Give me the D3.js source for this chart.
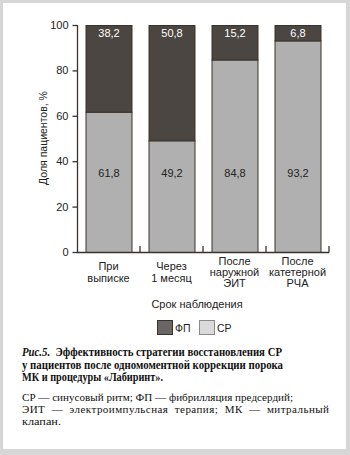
<!DOCTYPE html>
<html>
<head>
<meta charset="utf-8">
<script src="https://cdn.jsdelivr.net/npm/d3@7"></script>
<style>
  html, body { margin: 0; padding: 0; background: #d6d6d6; }
  svg { display: block; }
</style>
</head>
<body>
<svg id="chart" width="350" height="455"></svg>
<script>
// Periods of observation (multi-line labels)
const categories = [
  ["При", "выписке"],
  ["Через", "1 месяц"],
  ["После", "наружной", "ЭИТ"],
  ["После", "катетерной", "РЧА"]
];
// Share of patients, %
const srValues = [61.8, 49.2, 84.8, 93.2];   // sinus rhythm
const fpValues = [38.2, 50.8, 15.2, 6.8];    // atrial fibrillation
const yTicks = [0, 20, 40, 60, 80, 100];
const seriesNames = ["ФП", "СР"];

const svg = d3.select("#chart");

// white page panel
svg.append("rect").attr("x", 3).attr("y", 3).attr("width", 343).attr("height", 446).attr("fill", "#fff");

const plot = { left: 77, right: 329, top: 25, bottom: 252 };
const x = d3.scaleBand().domain(d3.range(categories.length)).range([plot.left, plot.right]).paddingInner(0.27).paddingOuter(0.135);
const y = d3.scaleLinear().domain([0, 100]).range([plot.bottom, plot.top]);

const dark = "#4b4641", light = "#b1b0b0", edge = "#3b332b";
const sans = "Liberation Sans, Arial, sans-serif";
const serif = "Liberation Serif, Times New Roman, serif";

// bars: СР bottom, ФП on top
const g = svg.append("g");
categories.forEach((c, i) => {
  g.append("rect").attr("x", x(i) + 0.5).attr("y", y(srValues[i]) + 0.5)
    .attr("width", x.bandwidth()).attr("height", y(0) - y(srValues[i]))
    .attr("fill", light).attr("stroke", edge).attr("stroke-width", 1);
  g.append("rect").attr("x", x(i) + 0.5).attr("y", y(srValues[i] + fpValues[i]) + 0.5)
    .attr("width", x.bandwidth()).attr("height", y(srValues[i]) - y(srValues[i] + fpValues[i]))
    .attr("fill", dark).attr("stroke", edge).attr("stroke-width", 1);
  const fmt = v => v.toFixed(1).replace(".", ",");
  g.append("text").attr("x", x(i) + x.bandwidth() / 2 + 0.5).attr("y", y(100) + 12)
    .attr("text-anchor", "middle").attr("font-family", sans).attr("font-size", 11)
    .attr("fill", "#fff").text(fmt(fpValues[i]));
  g.append("text").attr("x", x(i) + x.bandwidth() / 2 + 0.5).attr("y", y(33.2))
    .attr("text-anchor", "middle").attr("font-family", sans).attr("font-size", 11)
    .attr("fill", "#222").text(fmt(srValues[i]));
});

// y axis
const yAxis = svg.append("g").attr("transform", `translate(${plot.left + 0.5},0)`)
  .call(d3.axisLeft(y).tickValues(yTicks).tickSize(5).tickPadding(4));
yAxis.select(".domain").attr("stroke", edge).attr("stroke-width", 1.3).attr("d", `M0,${plot.top}V${plot.bottom}`);
yAxis.selectAll(".tick line").attr("stroke", edge).attr("stroke-width", 1.3);
yAxis.selectAll("text").attr("font-family", sans).attr("font-size", 11).attr("fill", "#222");

// x axis: baseline with upward ticks at band boundaries
const bounds = d3.range(1, categories.length + 1).map(i => x(i - 1) + x.step() - x.step() * x.paddingInner() / 2);
const xAxisG = svg.append("g");
xAxisG.append("path").attr("d", `M${plot.left},${plot.bottom + 0.5}H${plot.right}`).attr("stroke", edge).attr("stroke-width", 1.3).attr("fill", "none");
bounds.forEach(b => {
  xAxisG.append("line").attr("x1", b).attr("x2", b).attr("y1", plot.bottom + 0.5).attr("y2", plot.bottom - 6)
    .attr("stroke", edge).attr("stroke-width", 1.3);
});

// category labels, vertically centred
categories.forEach((c, i) => {
  const lh = 11.3, cy = 276;
  const t = svg.append("text").attr("text-anchor", "middle").attr("font-family", sans).attr("font-size", 11).attr("fill", "#222");
  c.forEach((line, k) => {
    t.append("tspan").attr("x", x(i) + x.bandwidth() / 2)
      .attr("y", cy + (k - (c.length - 1) / 2) * lh).text(line);
  });
});

svg.append("text").attr("x", 197).attr("y", 308).attr("text-anchor", "middle")
  .attr("font-family", sans).attr("font-size", 11).attr("fill", "#222").text("Срок наблюдения");

svg.append("text").attr("transform", `translate(47,138) rotate(-90)`).attr("text-anchor", "middle")
  .attr("font-family", sans).attr("font-size", 10.5).attr("fill", "#222").text("Доля пациентов, %");

// legend
const legend = [
  { name: seriesNames[0], fill: "#6b6663", stroke: "#3b332b", x: 157 },
  { name: seriesNames[1], fill: "#dadada", stroke: "#8a8a8a", x: 199 }
];
legend.forEach(d => {
  svg.append("rect").attr("x", d.x + 0.5).attr("y", 320.5).attr("width", 15).attr("height", 14)
    .attr("fill", d.fill).attr("stroke", d.stroke);
  svg.append("text").attr("x", d.x + 18).attr("y", 332).attr("font-family", sans).attr("font-size", 10.5)
    .attr("fill", "#222").text(d.name);
});

// figure caption (bold serif, lines fitted to the column width)
const capLines = [
  { y: 356, w: 260 },
  { y: 368.5, w: 261, text: "у пациентов после одномоментной коррекции порока" },
  { y: 381, w: 141, text: "МК и процедуры «Лабиринт»." }
];
const cap = svg.append("g").attr("font-family", serif).attr("font-size", 11.6).attr("font-weight", "bold").attr("fill", "#111");
const t1 = cap.append("text").attr("x", 22).attr("y", capLines[0].y)
  .attr("textLength", capLines[0].w).attr("lengthAdjust", "spacingAndGlyphs");
t1.append("tspan").attr("font-style", "italic").text("Рис.5.");
t1.append("tspan").text("\u00a0\u00a0Эффективность стратегии восстановления СР");
capLines.slice(1).forEach(l => {
  cap.append("text").attr("x", 22).attr("y", l.y).attr("textLength", l.w)
    .attr("lengthAdjust", "spacingAndGlyphs").text(l.text);
});

// abbreviations note
const noteLines = [
  { y: 401, w: 271, adj: "spacingAndGlyphs", text: "СР — синусовый ритм; ФП — фибрилляция предсердий;" },
  { y: 413, w: 307, adj: "spacing", text: "ЭИТ\u00a0 —\u00a0 электроимпульсная\u00a0 терапия;\u00a0 МК\u00a0 —\u00a0 митральный" },
  { y: 425, w: 39, adj: "spacingAndGlyphs", text: "клапан." }
];
const note = svg.append("g").attr("font-family", serif).attr("font-size", 11).attr("fill", "#111");
noteLines.forEach(l => {
  note.append("text").attr("x", 22).attr("y", l.y).attr("textLength", l.w)
    .attr("lengthAdjust", l.adj).text(l.text);
});
</script>
</body>
</html>
